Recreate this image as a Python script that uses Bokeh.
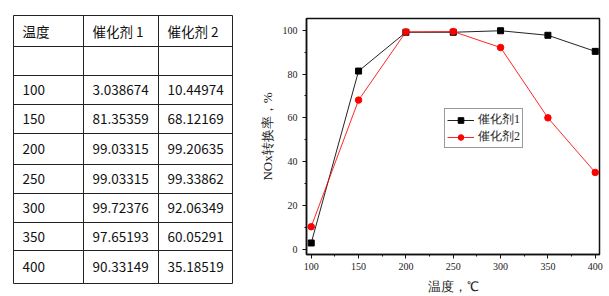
from bokeh.plotting import figure
from bokeh.layouts import row
from bokeh.models import Range1d, FixedTicker, ColumnDataSource
from bokeh.core.properties import value
from bokeh.embed import file_html
from bokeh.resources import INLINE

# ---- data ----
temps = [100, 150, 200, 250, 300, 350, 400]
cat1 = [3.038674, 81.35359, 99.03315, 99.03315, 99.72376, 97.65193, 90.33149]
cat2 = [10.44974, 68.12169, 99.20635, 99.33862, 92.06349, 60.05291, 35.18519]
header = ["温度", "催化剂 1", "催化剂 2"]
series_names = ["催化剂1", "催化剂2"]
x_ticks = [100, 150, 200, 250, 300, 350, 400]
y_ticks = [0, 20, 40, 60, 80, 100]

# ---- table figure ----
t = figure(width=250, height=296, x_range=Range1d(0, 250), y_range=Range1d(296, 0),
           output_backend="svg", toolbar_location=None,
           x_axis_type=None, y_axis_type=None,
           min_border=0, min_border_left=0, min_border_right=0,
           min_border_top=0, min_border_bottom=0)
t.frame_align = False
t.outline_line_color = None
t.xgrid.visible = False
t.ygrid.visible = False

col_edges = [13, 83, 158, 232]
row_edges = [15, 46, 75, 104, 133, 164, 193, 222, 250, 283]

# grid lines
hx0, hx1, hy0, hy1 = [], [], [], []
for y in row_edges:
    hx0.append(col_edges[0]); hx1.append(col_edges[-1]); hy0.append(y); hy1.append(y)
for x in col_edges:
    hx0.append(x); hx1.append(x); hy0.append(row_edges[0]); hy1.append(row_edges[-1])
t.segment(x0=hx0, y0=hy0, x1=hx1, y1=hy1, line_color="#222222", line_width=1)

# cell texts
rows = [header, ["", "", ""]] + [[str(a), str(b), str(c)] for a, b, c in zip(temps, cat1, cat2)]
tx, ty, tt = [], [], []
for i, r in enumerate(rows):
    yc = (row_edges[i] + row_edges[i + 1]) / 2
    for j, s in enumerate(r):
        tx.append(col_edges[j] + 9)
        ty.append(yc)
        tt.append(s)
t.text(x=tx, y=ty, text=tt, text_font=value("Noto Sans CJK SC"), text_font_size="13.5px",
       text_align="left", text_baseline="middle", text_color="#111111")

# ---- chart figure ----
p = figure(width=359, height=296, x_range=Range1d(95, 404.5), y_range=Range1d(-2.2, 105.3),
           output_backend="svg", toolbar_location=None,
           min_border_left=56, min_border_right=10, min_border_top=18, min_border_bottom=42)
p.frame_align = False
p.xgrid.visible = False
p.ygrid.visible = False
p.outline_line_color = "#111111"
p.outline_line_width = 1.5

src = ColumnDataSource(dict(x=temps, c1=cat1, c2=cat2))
p.line("x", "c1", source=src, line_color="#222222", line_width=1, legend_label=series_names[0])
p.scatter("x", "c1", source=src, marker="square", size=6, color="black", legend_label=series_names[0])
p.line("x", "c2", source=src, line_color="red", line_alpha=0.85, line_width=1, legend_label=series_names[1])
p.scatter("x", "c2", source=src, marker="circle", size=6.5, color="red", legend_label=series_names[1])

for ax, ticks in ((p.xaxis[0], x_ticks), (p.yaxis[0], y_ticks)):
    step = ticks[1] - ticks[0]
    minors = [ticks[0] + k * step / 2 for k in range(-1, 2 * len(ticks))]
    ax.ticker = FixedTicker(ticks=ticks, minor_ticks=minors)
    ax.axis_line_color = "#111111"
    ax.axis_line_width = 1.5
    ax.major_tick_line_color = "#111111"
    ax.minor_tick_line_color = "#111111"
    ax.major_tick_out = 4
    ax.major_tick_in = 0
    ax.minor_tick_out = 2
    ax.minor_tick_in = 0
    ax.major_label_text_font = "Liberation Serif"
    ax.major_label_text_font_size = "10px"
    ax.major_label_text_color = "#222222"
    ax.axis_label_text_font = "Liberation Serif"
    ax.axis_label_text_font_size = "13px"
    ax.axis_label_text_font_style = "normal"
    ax.axis_label_text_color = "#222222"

p.xaxis.axis_label = "温度，℃"
p.yaxis.axis_label = "NOx转换率，%"
p.xaxis.major_label_standoff = 4
p.yaxis.major_label_standoff = 5
p.xaxis.axis_label_standoff = 6
p.yaxis.axis_label_standoff = 5

lg = p.legend[0]
lg.location = (138, 106)
lg.margin = 0
lg.padding = 2
lg.spacing = 0
lg.glyph_width = 27
lg.glyph_height = 14
lg.label_height = 14
lg.label_standoff = 4
lg.label_text_font = "Liberation Serif"
lg.label_text_font_size = "12px"
lg.label_text_color = "#222222"
lg.border_line_color = "#333333"
lg.border_line_width = 1
lg.background_fill_alpha = 1

layout = row(t, p, spacing=0)
open("out.html", "w").write(file_html(layout, INLINE))
